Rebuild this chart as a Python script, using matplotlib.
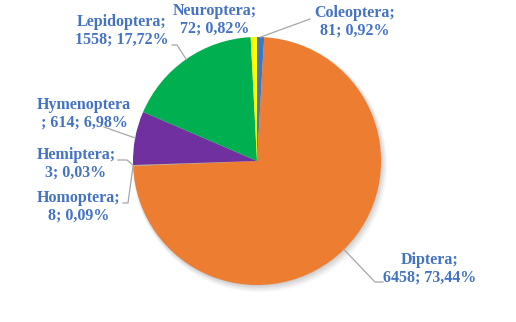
import numpy as np
import matplotlib.pyplot as plt
from matplotlib.patches import Circle

# insect orders, clockwise from 12 o'clock
orders = ["Coleoptera", "Diptera", "Homoptera", "Hemiptera",
          "Hymenoptera", "Lepidoptera", "Neuroptera"]
counts = [81, 6458, 8, 3, 614, 1558, 72]
pct_labels = ["0,92%", "73,44%", "0,09%", "0,03%", "6,98%", "17,72%", "0,82%"]
colors = ["#4472C4", "#ED7D31", "#A5A5A5", "#FFC000",
          "#7030A0", "#00B050", "#FFFF00"]

W, H = 516, 322
R = 124.0
CX, CY = 257, 161


def px(x, y):
    # pixel position in the image -> data units (pie radius = 1)
    return ((x - CX) / R, (CY - y) / R)


# label block centre and leader elbow (pixels); None = no leader
label_pos = {
    "Coleoptera": ((355, 22), [(310, 19)]),
    "Diptera": ((430, 269), [(375, 282), (383, 282)]),
    "Homoptera": ((79, 207), [(128, 203), (123, 203)]),
    "Hemiptera": ((76, 164), [(127, 160), (118, 160)]),
    "Hymenoptera": ((84, 114), [(104, 127)]),
    "Lepidoptera": ((122, 31), [(177, 45), (172, 45)]),
    "Neuroptera": ((215, 20), None),
}
text_lines = {
    "Hymenoptera": "Hymenoptera\n; 614; 6,98%",
}

fig = plt.figure(figsize=(W / 100, H / 100), dpi=100)
ax = fig.add_axes([0, 0, 1, 1])

# soft drop shadow
for k, a in enumerate([0.04, 0.05, 0.06, 0.07]):
    off = (4 - k) / R
    ax.add_patch(Circle((off * 0.7, -off), 1.0 + (3 - k) / R,
                        color="black", alpha=a, lw=0, zorder=0))

wedges, _ = ax.pie(counts, colors=colors, startangle=90, counterclock=False,
                   radius=1, center=(0, 0),
                   wedgeprops=dict(linewidth=0))
for w in wedges:
    w.set_zorder(2)

# pie() resets the limits, so set them afterwards
ax.set_xlim(-CX / R, (W - CX) / R)
ax.set_ylim(-(H - CY) / R, CY / R)
ax.set_aspect("equal")
ax.axis("off")

for w, name, n, p in zip(wedges, orders, counts, pct_labels):
    (tx, ty), elbow = label_pos[name]
    txt = text_lines.get(name, f"{name};\n{n}; {p}")
    ax.text(*px(tx, ty), txt, ha="center", va="center", fontsize=11.5,
            family="Liberation Serif", fontweight="bold", color="#4472C4",
            linespacing=1.12, zorder=5)
    if elbow is None:
        continue
    ang = np.deg2rad((w.theta1 + w.theta2) / 2)
    pts = [(np.cos(ang), np.sin(ang))] + [px(*e) for e in elbow]
    xs, ys = zip(*pts)
    ax.plot(xs, ys, color="#A6A6A6", lw=0.9, zorder=4)

fig.savefig("out.png", dpi=100)
